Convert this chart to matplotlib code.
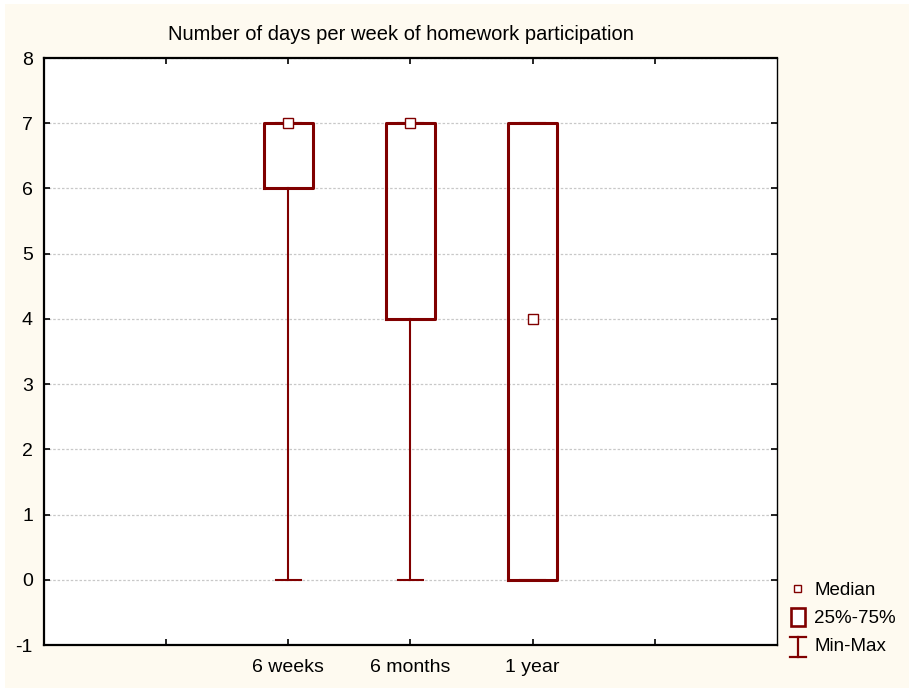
import matplotlib
matplotlib.use("Agg")
import matplotlib.pyplot as plt
from matplotlib.lines import Line2D
from matplotlib.patches import Rectangle
from matplotlib.legend_handler import HandlerBase

plt.rcParams['font.family'] = ['Liberation Sans', 'DejaVu Sans']
plt.rcParams['axes.unicode_minus'] = False

categories = ['6 weeks', '6 months', '1 year']
positions = [2, 3, 4]
medians = [7, 7, 4]
q1 = [6, 4, 0]
q3 = [7, 7, 7]
mins = [0, 0, 0]
maxs = [7, 7, 7]
title = 'Number of days per week of homework participation'
legend_labels = ['Median', '25%-75%', 'Min-Max']

RED = '#800000'
CREAM = '#FEFAF0'
PX = 72 / 100  # pixels -> points

fig = plt.figure(figsize=(9.09, 6.88), dpi=100)
fig.patch.set_facecolor('white')
fig.patches.append(Rectangle((5/909, 0), 1, 1 - 4/688, transform=fig.transFigure,
                             facecolor=CREAM, edgecolor='none', zorder=-10))
ax = fig.add_axes([44/909, 1 - 645/688, (777 - 44)/909, (645 - 58)/688])
ax.set_facecolor('white')

stats = []
for c, m, a, b, lo, hi in zip(categories, medians, q1, q3, mins, maxs):
    stats.append(dict(label=c, med=m, q1=a, q3=b, whislo=lo, whishi=hi, fliers=[]))

ax.bxp(stats, positions=positions, widths=0.4, capwidths=0.2, showfliers=False,
       boxprops=dict(color=RED, linewidth=2.2),
       whiskerprops=dict(color=RED, linewidth=1.5),
       capprops=dict(color=RED, linewidth=1.5),
       medianprops=dict(linestyle='none'),
       manage_ticks=False, zorder=3)
ax.plot(positions, medians, linestyle='none', marker='s', markersize=7,
        markerfacecolor='white', markeredgecolor=RED, markeredgewidth=1.0, zorder=4)

ax.set_xlim(0, 6)
ax.set_ylim(-1, 8)
ax.set_yticks(range(-1, 9))
ax.set_xticks([1, 2, 3, 4, 5])
ax.set_xticklabels(['', categories[0], categories[1], categories[2], ''])
ax.tick_params(axis='both', direction='in', length=4, width=1.2, labelsize=14,
               top=True, right=True, colors='black')
ax.tick_params(axis='y', pad=8)
ax.tick_params(axis='x', pad=10)
for s in ax.spines.values():
    s.set_linewidth(1.6)
    s.set_color('black')
ax.spines['right'].set_linewidth(1.0)
ax.grid(axis='y', color='#c8c8c8', linestyle=(0, (2, 1.5)), linewidth=0.9, zorder=0)
ax.set_axisbelow(True)

ax.set_title(title, fontsize=14.5, pad=13, x=0.487)


class BoxHandler(HandlerBase):
    def create_artists(self, legend, orig_handle, xdescent, ydescent, width, height,
                       fontsize, trans):
        w, h = 14 * PX, 18 * PX
        cx, cy = width / 2 - xdescent, height / 2 - ydescent
        r = Rectangle((cx - w / 2, cy - h / 2), w, h, facecolor='white',
                      edgecolor=RED, linewidth=1.9, transform=trans)
        return [r]


class IBeamHandler(HandlerBase):
    def create_artists(self, legend, orig_handle, xdescent, ydescent, width, height,
                       fontsize, trans):
        w, h = 16 * PX, 20 * PX
        cx, cy = width / 2 - xdescent, height / 2 - ydescent - 2 * PX
        kw = dict(color=RED, linewidth=1.6, transform=trans)
        return [Line2D([cx, cx], [cy - h / 2, cy + h / 2], **kw),
                Line2D([cx - w / 2, cx + w / 2], [cy + h / 2, cy + h / 2], **kw),
                Line2D([cx - w / 2, cx + w / 2], [cy - h / 2, cy - h / 2], **kw)]


class SmallSquareHandler(HandlerBase):
    def create_artists(self, legend, orig_handle, xdescent, ydescent, width, height,
                       fontsize, trans):
        s = 7 * PX
        cx, cy = width / 2 - xdescent, height / 2 - ydescent
        r = Rectangle((cx - s / 2, cy - s / 2), s, s, facecolor='white',
                      edgecolor=RED, linewidth=1.0, transform=trans)
        return [r]


h_med, h_box, h_rng = object(), object(), object()
fig.legend([h_med, h_box, h_rng], legend_labels, loc='upper left',
           bbox_to_anchor=(789/909, 1 - 582/688), frameon=False, fontsize=13.5,
           handlelength=0.95, handletextpad=0.4, labelspacing=0.58, borderaxespad=0,
           borderpad=0,
           handler_map={h_med: SmallSquareHandler(), h_box: BoxHandler(),
                        h_rng: IBeamHandler()})

fig.savefig('out.png', dpi=100, facecolor=fig.get_facecolor())
